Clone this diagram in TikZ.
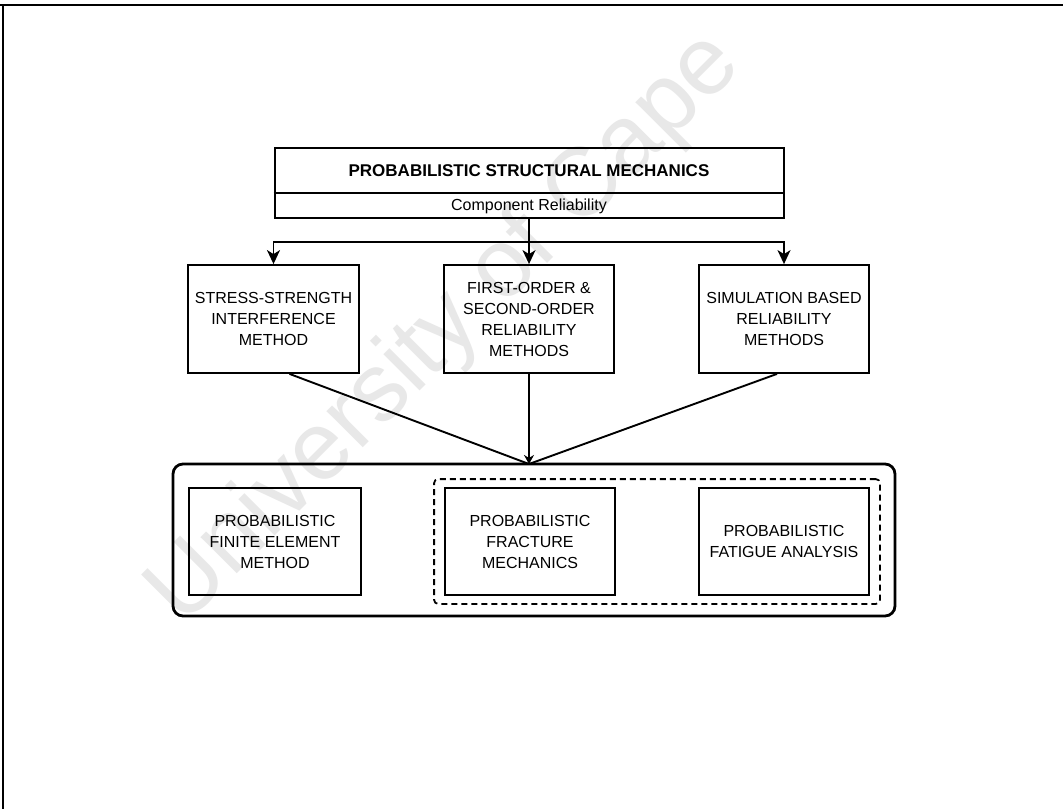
\documentclass[tikz,border=0pt]{standalone}
\usepackage{fontspec}
\setmainfont{Liberation Sans}
\usetikzlibrary{arrows.meta,fit,calc}
\begin{document}
\begin{tikzpicture}[x=1pt,y=-1pt,
  box/.style={draw, line width=1.8pt, minimum width=171pt, minimum height=108pt, align=center, font=\fontsize{16}{21}\selectfont, inner sep=0pt},
  ibox/.style={draw, line width=1.8pt, minimum width=171pt, minimum height=107pt, align=center, font=\fontsize{16}{21}\selectfont, inner sep=0pt},
  conn/.style={line width=1.9pt},
  arr/.style={conn, -{Stealth[length=14pt,width=13pt,inset=4pt]}},
  wm/.style={text=black!9, font=\fontsize{97}{97}\selectfont}
]
\useasboundingbox (0,0) rectangle (1063,809);
\fill[white] (0,0) rectangle (1063,809);
% watermark
\node[wm, anchor=base west, rotate=45, inner sep=0pt] (wmark) at (183,628) {University of Cape};
% page frame
\draw[line width=1.8pt] (0,5) -- (1063,5);
\draw[line width=1.8pt] (3,5) -- (3,809);
% top box
\node[draw, line width=2pt, minimum width=509pt, minimum height=70pt, inner sep=0pt] (pm) at (529,183) {};
\draw[line width=1.8pt] (pm.west |- 0,193) -- (pm.east |- 0,193);
\node[font=\fontsize{17}{20}\selectfont\bfseries] (title) at (529,171) {PROBABILISTIC STRUCTURAL MECHANICS};
\node[font=\fontsize{16}{20}\selectfont] (comp) at (529,206) {Component Reliability};
% method boxes
\node[box] (ss) at (273.5,319) {STRESS-STRENGTH\\INTERFERENCE\\METHOD};
\node[box, minimum width=170pt] (fo) at (529,319) {FIRST-ORDER \&\\SECOND-ORDER\\RELIABILITY\\METHODS};
\node[box, minimum width=170pt] (sim) at (784,319) {SIMULATION BASED\\RELIABILITY\\METHODS};
\coordinate (split) at (529,242);
\draw[arr] (pm.south) -- (fo.north);
\draw[arr] (split) -| (ss.north);
\draw[arr] (split) -| (sim.north);
% container
\node[draw, line width=2.8pt, rounded corners=10pt, minimum width=722pt, minimum height=152pt, inner sep=0pt] (cont) at (534,540) {};
\coordinate (conv) at (529,464);
\draw[conn] ([xshift=16pt]ss.south) -- (conv);
\draw[conn] ([xshift=-7pt]sim.south) -- (conv);
\draw[conn, -{Stealth[length=9pt,width=10pt]}] (fo.south) -- (conv);
% inner boxes
\node[ibox, minimum width=172pt] (pfem) at (275,541.5) {PROBABILISTIC\\FINITE ELEMENT\\METHOD};
\node[ibox, minimum width=170pt] (frac) at (530,541.5) {PROBABILISTIC\\FRACTURE\\MECHANICS};
\node[ibox, minimum width=170pt] (fat) at (784,541.5) {PROBABILISTIC\\FATIGUE ANALYSIS};
\node[draw, line width=1.8pt, dash pattern=on 6pt off 4pt, rounded corners=4pt, inner xsep=10pt, inner ysep=8pt, fit=(frac)(fat)] (grp) {};
\end{tikzpicture}
\end{document}
